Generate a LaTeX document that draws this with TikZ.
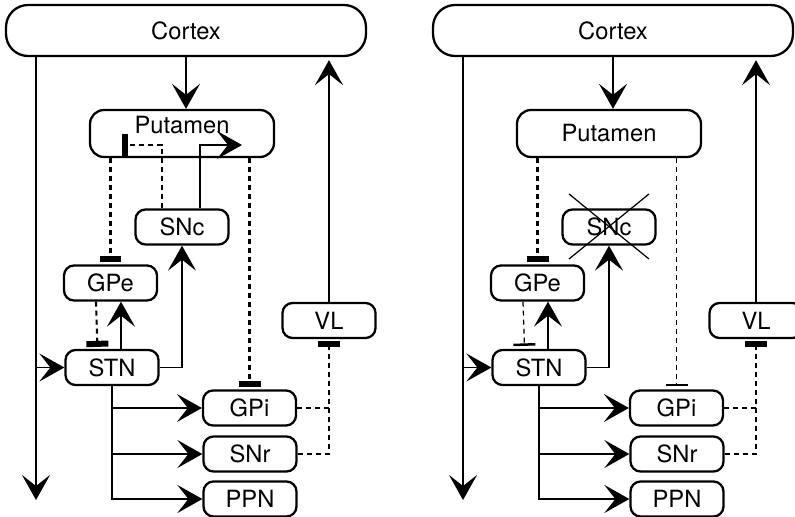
\documentclass[tikz,border=0pt]{standalone}
\usepackage{fontspec}
\setmainfont{TeX Gyre Heros}
\usetikzlibrary{arrows.meta}

\tikzset{
  box/.style={draw, line width=1.3pt, rounded corners=0.2cm, minimum width=1.86cm,
    minimum height=0.7cm, inner sep=0pt, font=\fontsize{13.5}{16}\selectfont},
  exc/.style={line width=1.1pt, -{Stealth[length=0.5cm, width=0.56cm, inset=0.22cm]}},
  dsh/.style={line width=1.2pt, dash pattern=on 0.1cm off 0.08cm},
  inhthick/.style={dsh, -{Rectangle[length=0.12cm, width=0.44cm]}, shorten >=0.04cm},
  inhthin/.style={line width=0.7pt, dash pattern=on 0.1cm off 0.08cm,
    -{Rectangle[length=0.05cm, width=0.44cm]}, shorten >=0.06cm},
}

\begin{document}
\begin{tikzpicture}[x=0.02cm, y=-0.02cm]
			\useasboundingbox (0,0) rectangle (795,517);
			% Vẽ Putamen
			\node[box, minimum width=3.68cm, minimum height=0.94cm, rounded corners=0.28cm,
			      text depth=9.6pt] (putL) at (182,133.5) {Putamen};
			\node[box, minimum width=3.68cm, minimum height=0.94cm, rounded corners=0.28cm]
			      (putR) at (609,133.5) {Putamen};
			% Vẽ hai sơ đồ
			\foreach \o/\p/\ds in {0/L/inhthick,427/R/inhthin}{
			\node[box, minimum width=7.2cm, minimum height=1.02cm, rounded corners=0.44cm]
			      (ctx\p) at ({\o+186},30.5) {Cortex};
			\node[box] (snc\p) at ({\o+182},227) {SNc};
			\node[box] (gpe\p) at ({\o+110.5},283) {GPe};
			\node[box] (stn\p) at ({\o+112},367.5) {STN};
			\node[box] (gpi\p) at ({\o+249.5},408) {GPi};
			\node[box] (snr\p) at ({\o+250},454) {SNr};
			\node[box] (ppn\p) at ({\o+250},499) {PPN};
			\node[box] (vl\p) at ({\o+329},320.5) {VL};
			\coordinate (end\p) at ({\o+36},500);
			% Mũi tên
			\draw[exc] (ctx\p.south) -- (ctx\p.south |- put\p.north);
			\draw[exc] (ctx\p.south -| end\p) -- (end\p);
			\draw[exc] (stn\p.west -| end\p) -- (stn\p.west);
			\draw[exc] (vl\p.north) -- ([yshift=-0.06cm]vl\p.north |- ctx\p.south);
			\draw[exc] ([xshift=0.18cm]stn\p.north) -- ([xshift=0.18cm]stn\p.north |- gpe\p.south);
			\draw[exc] (stn\p.east) -| (snc\p.south);
			\draw[exc] (stn\p.south) |- (ppn\p.west);
			\draw[exc] (stn\p.south |- gpi\p.west) -- (gpi\p.west);
			\draw[exc] (stn\p.south |- snr\p.west) -- (snr\p.west);
			% Đường ức chế
			\draw[inhthick] (gpe\p.north |- put\p.south) -- (gpe\p.north);
			\draw[\ds] (gpi\p.north |- put\p.south) -- (gpi\p.north);
			\draw[\ds] ([xshift=-0.29cm]gpe\p.south) -- ([xshift=-0.29cm]stn\p.north);
			\draw[dsh] (gpi\p.east) -- (gpi\p.east -| vl\p.south);
			\draw[inhthick] (snr\p.east) -| (vl\p.south);
			}
			% SNc bên trái
			\coordinate (da) at (122,145);
			\coordinate (db) at (242,145);
			\draw[dsh, -{Rectangle[length=0.12cm, width=0.44cm]}] ([xshift=-0.4cm]sncL.north) |- (da);
			\draw[exc] ([xshift=0.36cm]sncL.north) |- (db);
			% Gạch chéo SNc bên phải
			\draw[line width=0.7pt] ([shift={(-40,-33)}]sncR.center) -- ([shift={(40,32)}]sncR.center);
			\draw[line width=0.7pt] ([shift={(40,-33)}]sncR.center) -- ([shift={(-40,32)}]sncR.center);
		\end{tikzpicture}
\end{document}
